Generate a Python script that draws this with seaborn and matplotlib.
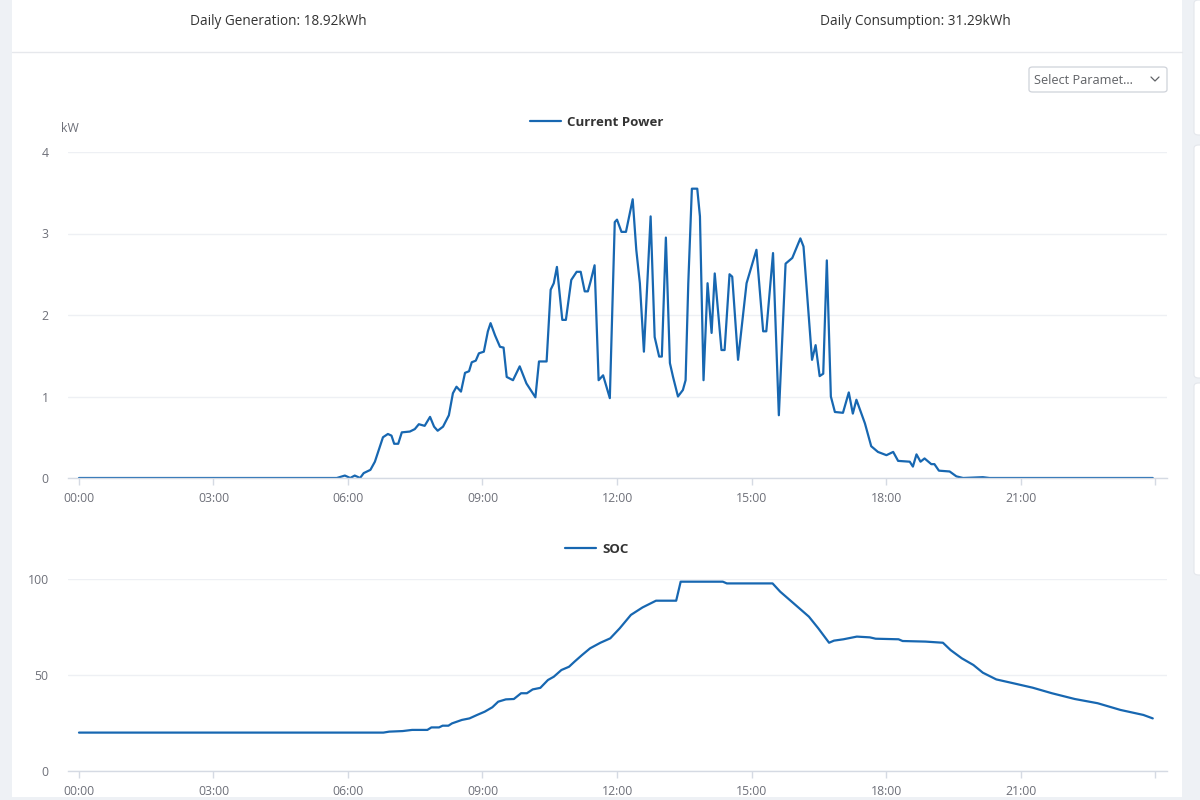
import numpy as np
import pandas as pd
import matplotlib
matplotlib.use("Agg")
import matplotlib.pyplot as plt
from matplotlib.patches import Rectangle, FancyBboxPatch
from matplotlib.lines import Line2D
import seaborn as sns

# ======================================================
#   data
# ======================================================
power_hours = [
    0.0, 5.75, 5.93, 6.05, 6.15, 6.27, 6.35, 6.5, 6.6, 6.78, 6.89, 6.97, 7.03, 7.12,
    7.2, 7.38, 7.49, 7.58, 7.71, 7.83, 7.92, 8.0, 8.12, 8.25, 8.34, 8.42, 8.52, 8.61,
    8.7, 8.76, 8.85, 8.92, 9.03, 9.12, 9.18, 9.28, 9.39, 9.47, 9.54, 9.68, 9.83, 9.98,
    10.18, 10.26, 10.43, 10.52, 10.59, 10.66, 10.78, 10.86, 10.98, 11.1, 11.19, 11.28,
    11.35, 11.41, 11.5, 11.59, 11.69, 11.84, 11.95, 12.0, 12.1, 12.2, 12.35, 12.43,
    12.51, 12.6, 12.75, 12.84, 12.94, 13.0, 13.09, 13.18, 13.25, 13.36, 13.47, 13.53,
    13.59, 13.67, 13.79, 13.85, 13.93, 14.02, 14.11, 14.18, 14.33, 14.4, 14.51, 14.57,
    14.7, 14.89, 15.11, 15.26, 15.33, 15.48, 15.61, 15.76, 15.91, 16.09, 16.16, 16.35,
    16.43, 16.52, 16.6, 16.68, 16.77, 16.86, 17.04, 17.17, 17.26, 17.34, 17.53, 17.67,
    17.82, 18.01, 18.16, 18.27, 18.53, 18.6, 18.68, 18.77, 18.86, 19.01, 19.08, 19.18,
    19.42, 19.57, 19.72, 20.16, 20.31, 23.95,
]
power_kw = [
    0.0, 0.0, 0.03, 0.0, 0.03, 0.0, 0.06, 0.1, 0.2, 0.5, 0.54, 0.52, 0.42, 0.42,
    0.56, 0.57, 0.6, 0.66, 0.64, 0.75, 0.63, 0.58, 0.63, 0.77, 1.04, 1.12, 1.06, 1.29,
    1.31, 1.42, 1.44, 1.53, 1.55, 1.8, 1.9, 1.75, 1.61, 1.6, 1.24, 1.2, 1.37, 1.16,
    0.99, 1.43, 1.43, 2.31, 2.39, 2.59, 1.94, 1.94, 2.43, 2.53, 2.53, 2.29,
    2.29, 2.41, 2.61, 1.2, 1.26, 0.98, 3.14, 3.17, 3.02, 3.02, 3.42, 2.8,
    2.39, 1.55, 3.21, 1.73, 1.49, 1.49, 2.95, 1.41, 1.24, 1.0, 1.08, 1.2,
    2.39, 3.55, 3.55, 3.21, 1.2, 2.39, 1.78, 2.51, 1.57, 1.57, 2.5, 2.47,
    1.45, 2.39, 2.8, 1.8, 1.8, 2.76, 0.77, 2.63, 2.7, 2.94, 2.84, 1.45,
    1.63, 1.25, 1.28, 2.67, 1.0, 0.81, 0.8, 1.05, 0.79, 0.96, 0.67, 0.39,
    0.32, 0.28, 0.32, 0.21, 0.2, 0.14, 0.29, 0.2, 0.24, 0.17, 0.17, 0.09,
    0.08, 0.02, 0.0, 0.01, 0.0, 0.0,
]

soc_hours = [
    0.0, 6.79, 6.92, 7.22, 7.43, 7.77, 7.86, 8.03, 8.11, 8.24, 8.32, 8.54, 8.71, 8.88,
    9.05, 9.22, 9.35, 9.52, 9.7, 9.86, 9.99, 10.12, 10.29, 10.46, 10.59, 10.76, 10.93,
    11.05, 11.22, 11.4, 11.63, 11.85, 12.06, 12.31, 12.57, 12.87, 13.32, 13.42, 14.36,
    14.45, 15.47, 15.64, 15.98, 16.28, 16.49, 16.73, 16.84, 17.05, 17.35, 17.64, 17.77,
    18.28, 18.37, 18.88, 19.27, 19.44, 19.69, 19.95, 20.16, 20.46, 20.84, 21.27, 21.7,
    22.21, 22.72, 23.23, 23.74, 23.95,
]
soc_pct = [
    20.0, 20.0, 20.5, 20.8, 21.4, 21.4, 22.7, 22.7, 23.6, 23.6, 24.8, 26.6, 27.4, 29.2,
    30.9, 33.2, 36.1, 37.3, 37.5, 40.5, 40.5, 42.5, 43.3, 47.4, 49.1, 52.6, 54.3,
    56.9, 60.4, 63.9, 66.8, 69.1, 74.3, 81.3, 85.2, 88.7, 88.7, 98.6, 98.6,
    97.7, 97.7, 93.4, 86.5, 80.4, 74.3, 66.8, 67.9, 68.6, 70.0, 69.6, 68.9,
    68.6, 67.7, 67.4, 66.8, 63.0, 58.7, 55.2, 51.2, 47.7, 45.7, 43.4, 40.5,
    37.5, 35.3, 31.8, 29.2, 27.4,
]

tick_hours = [0, 3, 6, 9, 12, 15, 18, 21, 24]
tick_labels = ["00:00", "03:00", "06:00", "09:00", "12:00", "15:00", "18:00", "21:00", ""]

daily_generation = "Daily Generation: 18.92kWh"
daily_consumption = "Daily Consumption: 31.29kWh"

# ======================================================
#   theme
# ======================================================
sns.set_theme(style="white")
plt.rcParams["font.family"] = ["Open Sans", "DejaVu Sans"]

LINE = "#1767b1"
GRID = "#eef0f4"
AXIS = "#d5dae3"
LABEL = "#6e7079"
PAGE = "#eef1f5"

W, H = 1200, 800
fig = plt.figure(figsize=(12, 8), dpi=100, facecolor=PAGE)


def fx(px):
    return px / W


def fy(py):
    return 1 - py / H


# page background pieces
fig.patches.append(Rectangle((fx(12), fy(797)), fx(1182) - fx(12), fy(0) - fy(797),
                             transform=fig.transFigure, facecolor="white",
                             edgecolor="none", zorder=-10))
for top, bottom in [(0, 135), (145, 378), (383, 575)]:
    fig.patches.append(FancyBboxPatch((fx(1194), fy(bottom)), 0.02, fy(top) - fy(bottom),
                                      boxstyle="round,pad=0,rounding_size=0.004",
                                      transform=fig.transFigure, facecolor="white",
                                      edgecolor="#e4e7ec", linewidth=0.8, zorder=-10))
fig.add_artist(Line2D([fx(12), fx(1182)], [fy(52), fy(52)], color="#e6e8ec",
                      linewidth=1.0, transform=fig.transFigure))

# header
fig.text(fx(278), fy(21.5), daily_generation, ha="center", va="center",
         fontsize=9.8, color="#333333")
fig.text(fx(915), fy(21.5), daily_consumption, ha="center", va="center",
         fontsize=9.8, color="#333333")

# "Select Parameter" dropdown
fig.patches.append(FancyBboxPatch((fx(1029), fy(92)), fx(1167) - fx(1029), fy(67) - fy(92),
                                  boxstyle="round,pad=0,rounding_size=0.003",
                                  transform=fig.transFigure, facecolor="white",
                                  edgecolor="#cfd3da", linewidth=0.9))
fig.text(fx(1034), fy(80.5), "Select Paramet...", ha="left", va="center",
         fontsize=9.2, color="#606266")
fig.add_artist(Line2D([fx(1151), fx(1155), fx(1159)], [fy(77), fy(81), fy(77)],
                      color="#606266", linewidth=0.9, transform=fig.transFigure))


def style_axes(ax, ymax, yticks):
    ax.set_xlim(-11 / 44.85, 24 + 12 / 44.85)
    ax.set_ylim(0, ymax)
    ax.set_xticks(tick_hours)
    ax.set_xticklabels(tick_labels)
    ax.set_yticks(yticks)
    ax.set_yticklabels([str(v) for v in yticks])
    ax.set_xlabel("")
    ax.set_ylabel("")
    for side in ["top", "right", "left"]:
        ax.spines[side].set_visible(False)
    ax.spines["bottom"].set_color(AXIS)
    ax.spines["bottom"].set_linewidth(1.0)
    ax.grid(True, axis="y", color=GRID, linewidth=1.0)
    ax.grid(False, axis="x")
    ax.tick_params(axis="x", direction="out", length=5, width=1.0, color=AXIS,
                   labelsize=8.8, labelcolor=LABEL, pad=5, bottom=True)
    ax.tick_params(axis="y", length=0, labelsize=8.8, labelcolor=LABEL, pad=14)
    ax.patch.set_alpha(0)


# ======================================================
#   1. Current Power
# ======================================================
power = pd.DataFrame({"hour": power_hours, "kW": power_kw})
ax1 = fig.add_axes([fx(68), fy(478), fx(1167) - fx(68), fy(152) - fy(478)])
sns.lineplot(data=power, x="hour", y="kW", ax=ax1, color=LINE, linewidth=1.6,
             label="Current Power")
style_axes(ax1, 4, [0, 1, 2, 3, 4])
leg = ax1.legend(loc="center", bbox_to_anchor=(fx(597), fy(122.5)),
                 bbox_transform=fig.transFigure, frameon=False, handlelength=2.3,
                 handletextpad=0.5, prop={"size": 9.5, "weight": "bold"})
for t in leg.get_texts():
    t.set_color("#333333")
fig.text(fx(70), fy(129), "kW", ha="center", va="center", fontsize=8.8, color=LABEL)

# ======================================================
#   2. SOC
# ======================================================
soc = pd.DataFrame({"hour": soc_hours, "SOC": soc_pct})
ax2 = fig.add_axes([fx(68), fy(771), fx(1167) - fx(68), fy(579) - fy(771)])
sns.lineplot(data=soc, x="hour", y="SOC", ax=ax2, color=LINE, linewidth=1.6,
             label="SOC")
style_axes(ax2, 100, [0, 50, 100])
leg = ax2.legend(loc="center", bbox_to_anchor=(fx(597), fy(549.5)),
                 bbox_transform=fig.transFigure, frameon=False, handlelength=2.3,
                 handletextpad=0.5, prop={"size": 9.5, "weight": "bold"})
for t in leg.get_texts():
    t.set_color("#333333")

fig.savefig("out.png", dpi=100, facecolor=PAGE)
